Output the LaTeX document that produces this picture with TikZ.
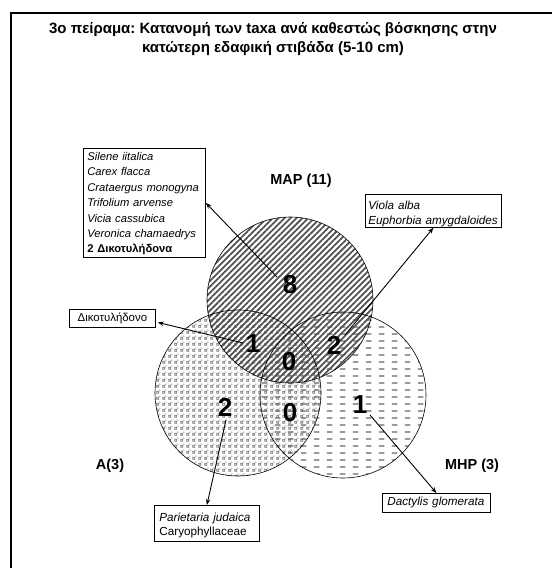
\documentclass[tikz,border=0pt]{standalone}
\usepackage{fontspec}
\setmainfont{Liberation Sans}
\usetikzlibrary{patterns,patterns.meta,arrows.meta,calc}
\frenchspacing
\newcommand\topgap[1]{\rule{0pt}{#1}}
\newcommand\botgap[1]{\rule[-#1]{0pt}{#1}}
\newcommand\oneline[1]{\mbox{#1}}

\pgfdeclarepatternformonly{hdashpat}{\pgfpointorigin}{\pgfqpoint{13pt}{7pt}}{\pgfqpoint{13pt}{7pt}}{%
  \pgfsetlinewidth{1.5pt}%
  \pgfpathmoveto{\pgfqpoint{2pt}{3.5pt}}\pgfpathlineto{\pgfqpoint{8pt}{3.5pt}}\pgfusepath{stroke}}
\pgfdeclarepatternformonly{speckpat}{\pgfpointorigin}{\pgfqpoint{6pt}{6pt}}{\pgfqpoint{6pt}{6pt}}{%
  \pgfsetlinewidth{0.8pt}%
  \pgfpathrectangle{\pgfqpoint{0.8pt}{0.8pt}}{\pgfqpoint{2.4pt}{2.4pt}}\pgfusepath{stroke}%
  \pgfpathrectangle{\pgfqpoint{3.8pt}{3.8pt}}{\pgfqpoint{1.4pt}{1.4pt}}\pgfusepath{fill}}

\begin{document}
\begin{tikzpicture}[x=1pt,y=-1pt,
  num/.style={font=\fontsize{26}{26}\selectfont\bfseries, inner sep=0pt},
  setlabel/.style={font=\fontsize{14.5}{14.5}\selectfont\bfseries, inner sep=0pt},
  box/.style={draw, line width=0.8pt, anchor=north west, align=left, inner xsep=5pt, inner ysep=0pt,
    font=\fontsize{11.7}{15.4}\selectfont},
  conn/.style={line width=0.9pt, -{Stealth[length=6pt,width=4.5pt]}},
  circ/.style={line width=0.6pt}]
\useasboundingbox (0,0) rectangle (552,568);

% frame
\draw[line width=1.8pt] (11,568) -- (11,13) -- (552,13);

% title
\node[font=\fontsize{15}{18.5}\selectfont\bfseries, align=center] (title) at (273,39)
  {3ο πείραμα: Κατανομή των taxa ανά καθεστώς βόσκησης στην\\κατώτερη εδαφική στιβάδα (5-10 cm)};

% circle patterns
\fill[pattern=speckpat, pattern color=black!55] (238,393) circle (83);
\fill[pattern=hdashpat, pattern color=black!60] (343,395) circle (83);
\fill[pattern={Lines[angle=45,distance=4.2pt,line width=1.8pt]}, pattern color=black!68] (290,300) circle (83);
\draw[circ] (238,393) circle (83);
\draw[circ] (343,395) circle (83);
\draw[circ] (290,300) circle (83);

% set labels
\node[setlabel] (lmap) at (301,181) {MAP (11)};
\node[setlabel] (la) at (110,466) {A(3)};
\node[setlabel] (lmhp) at (472,466) {MHP (3)};

% region counts
\node[num] (n8) at (290,285) {8};
\node[num] (n1a) at (253,344) {1};
\node[num] (n2b) at (334,345) {2};
\node[num] (n0a) at (289,362) {0};
\node[num] (n0b) at (290,413) {0};
\node[num] (n2a) at (225,407) {2};
\node[num] (n1b) at (360,405) {1};

% boxes
\node[box, text width=114pt, inner xsep=4pt, font=\fontsize{11.2}{15.4}\selectfont] (b1) at (83,148)
  {\topgap{12pt}\oneline{\textit{Silene iitalica}}\\\oneline{\textit{Carex flacca}}\\\oneline{\textit{Crataergus monogyna}}\\\oneline{\textit{Trifolium arvense}}\\\oneline{\textit{Vicia cassubica}}\\\oneline{\textit{Veronica chamaedrys}}\\\oneline{\textbf{2 Δικοτυλήδονα}}\botgap{4.5pt}};
\node[box, text width=130pt, inner xsep=3pt] (b2) at (365,194)
  {\topgap{15pt}\oneline{\textit{Viola alba}}\\\oneline{\textit{Euphorbia amygdaloides}}\botgap{2.5pt}};
\node[box, text width=76pt, minimum height=18pt, align=center, font=\fontsize{11.4}{12}\selectfont] (b3) at (69,309) {\oneline{Δικοτυλήδονο}};
\node[box, text width=95pt, font=\fontsize{11.7}{14.2}\selectfont] (b4) at (154,505)
  {\topgap{16pt}\oneline{\textit{Parietaria judaica}}\\\oneline{Caryophyllaceae}\botgap{5.8pt}};
\node[box, text width=98pt, minimum height=19pt] (b5) at (382,493) {\oneline{\textit{Dactylis glomerata}}};

% connectors
\coordinate (s8) at (277,277);
\coordinate (s2b) at (345,335);
\coordinate (s1a) at (243,343);
\coordinate (s2a) at (226,420);
\coordinate (s1b) at (370,415);
\coordinate (e3) at ($(b3.east)+(2,4)$);
\draw[conn] (s8) -- (b1.east);
\draw[conn] (s2b) -- (b2.south);
\draw[conn] (s1a) -- (e3);
\draw[conn] (s2a) -- (b4.north);
\draw[conn] (s1b) -- (b5.north);
\end{tikzpicture}
\end{document}
